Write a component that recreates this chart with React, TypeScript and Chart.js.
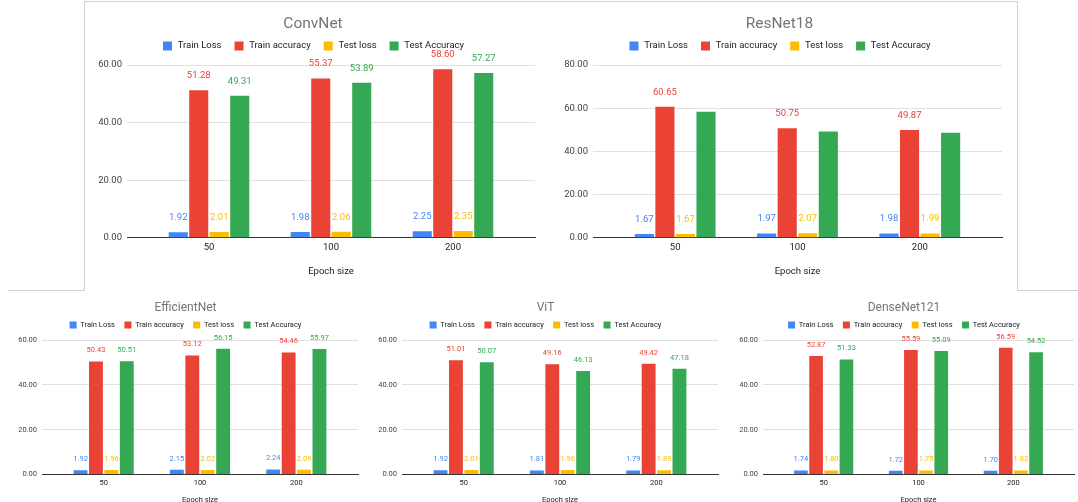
import React, { useEffect, useRef } from 'react';
import { Chart, registerables } from 'chart.js';

Chart.register(...registerables);

// ---------- data ----------
const categories = ['50', '100', '200'];
const seriesNames = ['Train Loss', 'Train accuracy', 'Test loss', 'Test Accuracy'];
const seriesColors = ['#4285F4', '#EA4335', '#FBBC04', '#34A853'];

const convTrainLoss = [1.92, 1.98, 2.25];
const convTrainAcc = [51.28, 55.37, 58.6];
const convTestLoss = [2.01, 2.06, 2.35];
const convTestAcc = [49.31, 53.89, 57.27];

const resTrainLoss = [1.67, 1.97, 1.98];
const resTrainAcc = [60.65, 50.75, 49.87];
const resTestLoss = [1.67, 2.07, 1.99];
const resTestAcc = [58.4, 49.2, 48.7];

const effTrainLoss = [1.92, 2.15, 2.24];
const effTrainAcc = [50.43, 53.12, 54.46];
const effTestLoss = [1.96, 2.02, 2.09];
const effTestAcc = [50.51, 56.15, 55.97];

const vitTrainLoss = [1.92, 1.81, 1.79];
const vitTrainAcc = [51.01, 49.16, 49.42];
const vitTestLoss = [2.01, 1.96, 1.89];
const vitTestAcc = [50.07, 46.13, 47.18];

const denseTrainLoss = [1.74, 1.72, 1.7];
const denseTrainAcc = [52.87, 55.59, 56.59];
const denseTestLoss = [1.8, 1.75, 1.83];
const denseTestAcc = [51.33, 55.09, 54.52];

const yTicks60 = [0, 20, 40, 60];
const yTicks80 = [0, 20, 40, 60, 80];

// ---------- styles ----------
const FONT = 'Roboto, Arial, sans-serif';

const TOP = {
  top: 3, height: 286,
  titleSize: 15.5, titlePadTop: 13.25, titlePadBottom: -3.25,
  legendSize: 9.5, box: 11, boxInset: 2, legendPad: 12, spacer: 3.6,
  tickSize: 9.5, xTickPad: 4.3, axisTitlePadTop: 8.6, axisTitlePadBottom: 11.3,
  labelSize: 9.5, labelOffset: 14.5, yTickPad: 5,
  xPad: 0.672, catPct: 0.672, barPct: 0.93,
};
const BOTTOM = {
  top: 292, height: 220,
  titleSize: 12, titlePadTop: 10, titlePadBottom: -2.25,
  legendSize: 7.5, box: 7, boxInset: 0, legendPad: 9.5, spacer: 1.25,
  tickSize: 7.5, xTickPad: 4.5, axisTitlePadTop: 3, axisTitlePadBottom: 7.5,
  labelSize: 7.5, labelOffset: 11, yTickPad: 5,
  xPad: 0.64, catPct: 0.64, barPct: 0.9,
};

type Spec = {
  title: string;
  series: number[][];
  showLabels: boolean[];
  yTicks: number[];
  left: number;
  width: number;
  yW: number;
  padL: number;
  padR: number;
  style: typeof TOP;
};

const specs: Spec[] = [
  { title: 'ConvNet', series: [convTrainLoss, convTrainAcc, convTestLoss, convTestAcc], showLabels: [true, true, true, true], yTicks: yTicks60, left: 86, width: 464, yW: 36, padL: 5, padR: 15, style: TOP },
  { title: 'ResNet18', series: [resTrainLoss, resTrainAcc, resTestLoss, resTestAcc], showLabels: [true, true, true, false], yTicks: yTicks80, left: 550, width: 466, yW: 36, padL: 7, padR: 14, style: TOP },
  { title: 'EfficientNet', series: [effTrainLoss, effTrainAcc, effTestLoss, effTestAcc], showLabels: [true, true, true, true], yTicks: yTicks60, left: 8, width: 360, yW: 29, padL: 5, padR: 10, style: BOTTOM },
  { title: 'ViT', series: [vitTrainLoss, vitTrainAcc, vitTestLoss, vitTestAcc], showLabels: [true, true, true, true], yTicks: yTicks60, left: 372, width: 360, yW: 29, padL: 1, padR: 14, style: BOTTOM },
  { title: 'DenseNet121', series: [denseTrainLoss, denseTrainAcc, denseTestLoss, denseTestAcc], showLabels: [true, true, true, true], yTicks: yTicks60, left: 730, width: 360, yW: 29, padL: 4, padR: 16, style: BOTTOM },
];

function Panel({ spec }: { spec: Spec }) {
  const ref = useRef<HTMLCanvasElement | null>(null);
  useEffect(() => {
    if (!ref.current) return;
    const s = spec.style;
    const labelPlugin = {
      id: 'valueLabels',
      afterDatasetsDraw(chart: any) {
        const ctx = chart.ctx;
        ctx.save();
        ctx.font = `${s.labelSize}px ${FONT}`;
        ctx.textAlign = 'center';
        ctx.textBaseline = 'middle';
        chart.data.datasets.forEach((ds: any, i: number) => {
          if (!spec.showLabels[i]) return;
          const meta = chart.getDatasetMeta(i);
          meta.data.forEach((el: any, j: number) => {
            ctx.fillStyle = seriesColors[i];
            ctx.fillText(spec.series[i][j].toFixed(2), el.x, el.y - s.labelOffset);
          });
        });
        ctx.restore();
      },
    };
    const defaultGen = (Chart.defaults as any).plugins.legend.labels.generateLabels;
    const chart = new Chart(ref.current, {
      type: 'bar',
      data: {
        datasets: seriesNames.map((name, i) => ({
          label: name,
          data: spec.series[i].map((v, k) => ({ x: k, y: v })),
          backgroundColor: seriesColors[i],
          borderWidth: 0,
          categoryPercentage: s.catPct,
          barPercentage: s.barPct,
        })),
      },
      options: {
        animation: false,
        responsive: false,
        devicePixelRatio: 1,
        layout: { padding: { left: spec.padL, right: spec.padR, top: 0, bottom: 0 } },
        plugins: {
          title: {
            display: true,
            text: spec.title,
            color: '#757575',
            font: { family: FONT, size: s.titleSize, weight: 'normal', lineHeight: 1 },
            padding: { top: s.titlePadTop, bottom: s.titlePadBottom },
          },
          subtitle: {
            display: true,
            text: '',
            weight: 500,
            font: { size: 1, lineHeight: 1 },
            padding: { top: 0, bottom: s.spacer - 1 },
          } as any,
          legend: {
            display: true,
            position: 'top',
            labels: {
              boxWidth: s.box,
              boxHeight: s.box,
              padding: s.legendPad,
              color: '#222',
              font: { family: FONT, size: s.legendSize },
              generateLabels: (c: any) =>
                defaultGen(c).map((l: any) => ({
                  ...l,
                  lineWidth: s.boxInset,
                  strokeStyle: '#ffffff',
                })),
            },
          },
          tooltip: { enabled: false },
        },
        scales: {
          x: {
            type: 'linear',
            offset: false,
            min: -s.xPad,
            max: categories.length - 1 + s.xPad,
            afterBuildTicks: (axis: any) => {
              axis.ticks = categories.map((_, k) => ({ value: k }));
            },
            ticks: {
              padding: s.xTickPad,
              color: '#222',
              font: { family: FONT, size: s.tickSize },
              callback: (v: any) => categories[Math.round(Number(v))] ?? '',
              maxRotation: 0,
              autoSkip: false,
            },
            grid: { display: false, drawTicks: false },
            border: { display: true, color: '#333', width: 1 },
            title: {
              display: true,
              text: 'Epoch size',
              color: '#222',
              font: { family: FONT, size: s.tickSize },
              padding: { top: s.axisTitlePadTop, bottom: s.axisTitlePadBottom },
            },
          },
          y: {
            min: 0,
            max: spec.yTicks[spec.yTicks.length - 1],
            afterBuildTicks: (axis: any) => {
              axis.ticks = spec.yTicks.map((v) => ({ value: v }));
            },
            afterFit: (axis: any) => {
              axis.width = spec.yW;
            },
            ticks: {
              padding: s.yTickPad,
              color: '#444',
              font: { family: FONT, size: s.tickSize },
              callback: (v: any) => Number(v).toFixed(2),
            },
            grid: { color: '#e0e0e0', drawTicks: false },
            border: { display: false },
          },
        },
      } as any,
      plugins: [labelPlugin],
    });
    return () => chart.destroy();
  }, [spec]);
  return (
    <canvas
      ref={ref}
      width={spec.width}
      height={spec.style.height}
      style={{ position: 'absolute', left: spec.left, top: spec.style.top, width: spec.width, height: spec.style.height }}
    />
  );
}

export default function App() {
  const line = '1px solid #d0d0d0';
  return (
    <div style={{ position: 'fixed', left: 0, top: 0, width: 1078, height: 502, overflow: 'hidden', background: '#fff' }}>
      <div style={{ position: 'absolute', left: 84, top: 1, width: 932, height: 289, borderLeft: line, borderTop: line, borderRight: line }} />
      <div style={{ position: 'absolute', left: 8, top: 290, width: 76, height: 0, borderTop: line }} />
      <div style={{ position: 'absolute', left: 1017, top: 290, width: 61, height: 0, borderTop: line }} />
      {specs.map((sp) => (
        <Panel key={sp.title} spec={sp} />
      ))}
    </div>
  );
}
